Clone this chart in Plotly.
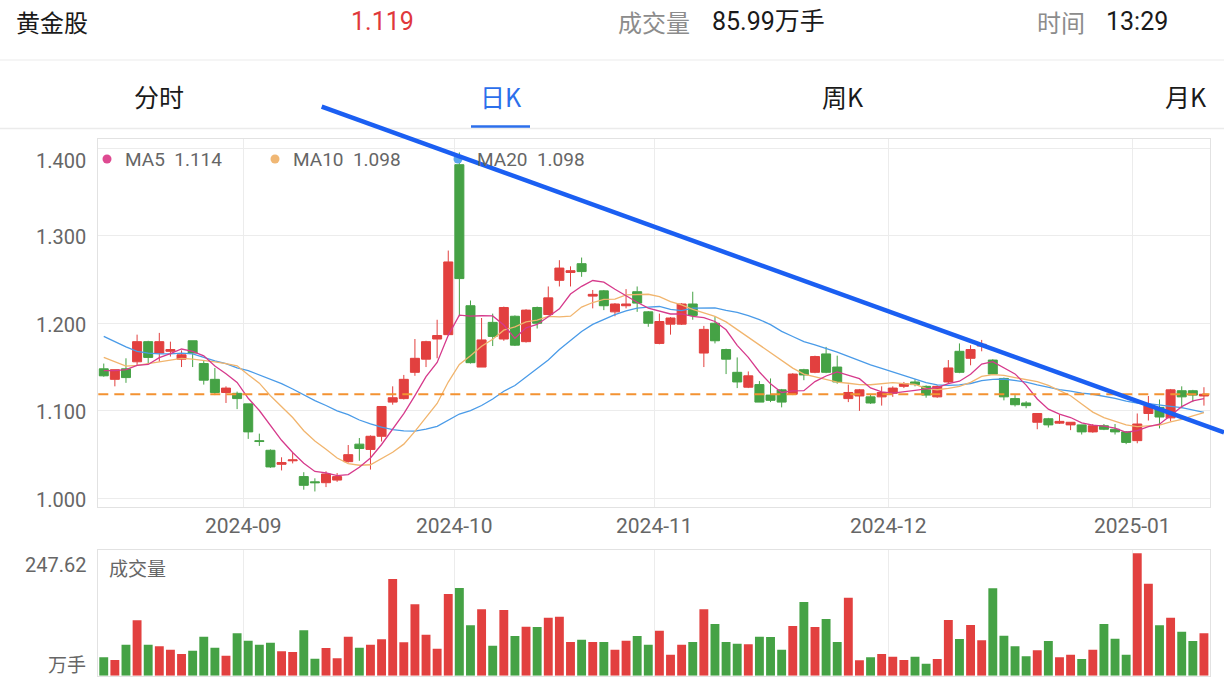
import plotly.graph_objects as go
import pandas as pd

# ---------------- data ----------------
aug_days = [14, 15, 16, 19, 20, 21, 22, 23, 26, 27, 28, 29, 30]
sep_days = [2, 3, 4, 5, 6, 9, 10, 11, 12, 13, 18, 19, 20, 23, 24, 25, 26, 27, 30]
oct_days = [8, 9, 10, 11, 14, 15, 16, 17, 18, 21, 22, 23, 24, 25, 28, 29, 30, 31]
nov_days = [1, 4, 5, 6, 7, 8, 11, 12, 13, 14, 15, 18, 19, 20, 21, 22, 25, 26, 27, 28, 29]
dec_days = [2, 3, 4, 5, 6, 9, 10, 11, 12, 13, 16, 17, 18, 19, 20, 23, 24, 25, 26, 27, 30, 31]
jan_days = [2, 3, 6, 7, 8, 9, 10]
months = [("2024-08", aug_days), ("2024-09", sep_days), ("2024-10", oct_days),
          ("2024-11", nov_days), ("2024-12", dec_days), ("2025-01", jan_days)]
dates = [f"{m}-{d:02d}" for m, days in months for d in days]
month_labels = ["2024-09", "2024-10", "2024-11", "2024-12", "2025-01"]

opens = [1.148, 1.136, 1.148, 1.156, 1.179, 1.166, 1.168, 1.159, 1.180, 1.154,
         1.136, 1.121, 1.120, 1.108, 1.066, 1.055, 1.039, 1.043, 1.025, 1.019,
         1.018, 1.021, 1.042, 1.062, 1.056, 1.071, 1.110, 1.114, 1.144, 1.159,
         1.182, 1.187, 1.381, 1.220, 1.150, 1.201, 1.182, 1.208, 1.179, 1.218,
         1.210, 1.249, 1.258, 1.268, 1.231, 1.237, 1.213, 1.220, 1.236, 1.213,
         1.177, 1.199, 1.199, 1.222, 1.166, 1.200, 1.170, 1.144, 1.127, 1.130,
         1.118, 1.124, 1.119, 1.147, 1.144, 1.165, 1.150, 1.114, 1.117, 1.116,
         1.116, 1.120, 1.128, 1.133, 1.128, 1.116, 1.133, 1.168, 1.160, 1.174,
         1.158, 1.137, 1.114, 1.109, 1.087, 1.091, 1.086, 1.084, 1.084, 1.076,
         1.083, 1.079, 1.076, 1.066, 1.097, 1.104, 1.092, 1.123, 1.123, 1.117]
closes = [1.140, 1.147, 1.138, 1.179, 1.161, 1.179, 1.170, 1.164, 1.166, 1.135,
          1.121, 1.126, 1.114, 1.076, 1.065, 1.036, 1.041, 1.044, 1.015, 1.018,
          1.028, 1.025, 1.050, 1.057, 1.071, 1.105, 1.115, 1.136, 1.160, 1.179,
          1.186, 1.270, 1.251, 1.155, 1.181, 1.185, 1.218, 1.175, 1.215, 1.200,
          1.229, 1.263, 1.260, 1.259, 1.233, 1.220, 1.222, 1.222, 1.223, 1.200,
          1.202, 1.206, 1.222, 1.209, 1.193, 1.180, 1.159, 1.133, 1.140, 1.110,
          1.112, 1.110, 1.142, 1.141, 1.162, 1.144, 1.133, 1.121, 1.124, 1.109,
          1.121, 1.126, 1.131, 1.130, 1.118, 1.128, 1.149, 1.144, 1.170, 1.176,
          1.142, 1.116, 1.107, 1.106, 1.097, 1.084, 1.088, 1.087, 1.076, 1.083,
          1.079, 1.076, 1.064, 1.085, 1.106, 1.093, 1.124, 1.116, 1.118, 1.119]
highs = [1.154, 1.147, 1.160, 1.187, 1.180, 1.189, 1.179, 1.169, 1.180, 1.158,
         1.149, 1.128, 1.122, 1.108, 1.074, 1.056, 1.047, 1.052, 1.030, 1.023,
         1.031, 1.029, 1.061, 1.069, 1.072, 1.105, 1.128, 1.141, 1.182, 1.180,
         1.204, 1.283, 1.395, 1.226, 1.206, 1.211, 1.219, 1.209, 1.216, 1.219,
         1.242, 1.272, 1.265, 1.275, 1.238, 1.238, 1.223, 1.239, 1.242, 1.214,
         1.211, 1.207, 1.223, 1.236, 1.197, 1.208, 1.171, 1.161, 1.145, 1.134,
         1.137, 1.125, 1.143, 1.148, 1.163, 1.173, 1.163, 1.130, 1.125, 1.119,
         1.128, 1.128, 1.133, 1.136, 1.129, 1.129, 1.158, 1.177, 1.175, 1.181,
         1.159, 1.138, 1.118, 1.111, 1.097, 1.092, 1.096, 1.087, 1.084, 1.085,
         1.085, 1.085, 1.077, 1.097, 1.117, 1.113, 1.125, 1.128, 1.124, 1.127]
lows = [1.139, 1.128, 1.132, 1.152, 1.154, 1.156, 1.162, 1.150, 1.150, 1.130,
        1.118, 1.109, 1.102, 1.068, 1.060, 1.035, 1.032, 1.040, 1.010, 1.008,
        1.013, 1.019, 1.041, 1.043, 1.033, 1.065, 1.107, 1.113, 1.140, 1.150,
        1.160, 1.186, 1.208, 1.154, 1.150, 1.174, 1.180, 1.174, 1.178, 1.194,
        1.209, 1.242, 1.242, 1.253, 1.217, 1.215, 1.208, 1.217, 1.213, 1.196,
        1.176, 1.187, 1.198, 1.204, 1.150, 1.177, 1.142, 1.126, 1.126, 1.110,
        1.110, 1.104, 1.118, 1.135, 1.143, 1.143, 1.131, 1.110, 1.100, 1.108,
        1.106, 1.116, 1.126, 1.128, 1.115, 1.115, 1.131, 1.143, 1.152, 1.168,
        1.141, 1.112, 1.105, 1.103, 1.079, 1.081, 1.085, 1.078, 1.073, 1.075,
        1.078, 1.073, 1.062, 1.063, 1.089, 1.080, 1.088, 1.103, 1.110, 1.106]
volumes = [37.2, 31.8, 62.7, 112.0, 62.7, 59.5, 52.6, 43.9, 50.6, 78.9,
           56.6, 40.5, 85.8, 70.8, 62.7, 66.8, 49.4, 47.9, 91.8, 34.4,
           56.0, 35.2, 78.9, 56.6, 62.7, 73.6, 195.6, 67.6, 144.4, 82.9,
           54.6, 165.3, 177.4, 102.0, 134.3, 60.7, 132.9, 80.3, 99.1, 98.5,
           117.3, 119.4, 68.2, 72.8, 68.2, 68.2, 52.6, 70.8, 80.3, 62.7,
           91.0, 42.5, 62.7, 68.2, 134.3, 104.6, 68.2, 64.7, 63.5, 78.9,
           78.5, 52.6, 100.5, 149.1, 98.5, 114.7, 68.2, 157.8, 31.2, 37.2,
           43.9, 38.4, 31.8, 38.4, 24.3, 33.8, 112.7, 74.2, 102.6, 71.6,
           176.8, 80.9, 59.5, 39.2, 51.4, 70.2, 37.2, 42.5, 33.8, 52.6,
           104.6, 74.9, 42.5, 247.62, 186.1, 102.0, 117.3, 89.0, 70.2, 85.99]
# moving-average values at the left edge (window starts before the visible range)
ma5_head = [1.146, 1.146, 1.147, 1.152]
ma10_head = [1.161, 1.156, 1.151, 1.152, 1.154, 1.156, 1.158, 1.160, 1.159]
ma20_head = [1.185, 1.179, 1.173, 1.168, 1.166, 1.165, 1.165, 1.166, 1.165, 1.161,
             1.157, 1.154, 1.149, 1.146, 1.141, 1.136, 1.131, 1.125, 1.118]
price_ticks = [1.0, 1.1, 1.2, 1.3, 1.4]
stock_name = "黄金股"
clock_time = "13:29"
tabs = ["分时", "日K", "周K", "月K"]

# ---------------- derived ----------------
n = len(dates)
idx = list(range(n))
cs = pd.Series(closes)


def ma(win, head):
    vals = cs.rolling(win).mean().tolist()
    return head + vals[len(head):]


ma5 = ma(5, ma5_head)
ma10 = ma(10, ma10_head)
ma20 = ma(20, ma20_head)
month_start = [dates.index(next(d for d in dates if d.startswith(m))) for m in month_labels]
grid_x = [i - 0.4 for i in month_start]

RED = "#E2403F"
GREEN = "#45A245"
vol_colors = [RED if c >= o else GREEN for o, c in zip(opens, closes)]

W, H = 1224, 686


def fx(p):
    return p / W


def fy(p):
    return 1 - p / H


PX0, PX1 = 98.3, 1209.5
PY0, PY1 = 139.3, 506.7
VY0, VY1 = 550.0, 675.7

NUM = "Roboto, Noto Sans CJK SC, sans-serif"
CJK = "Noto Sans CJK SC, sans-serif"
GRID = "#ececec"
BORDER = "#e2e2e2"
LABEL = "#666666"

fig = go.Figure()
fig.add_trace(go.Candlestick(
    x=idx, open=opens, high=highs, low=lows, close=closes,
    increasing=dict(line=dict(color=RED, width=1), fillcolor=RED),
    decreasing=dict(line=dict(color=GREEN, width=1), fillcolor=GREEN),
    whiskerwidth=0, showlegend=False, xaxis="x", yaxis="y",
    text=dates, hoverinfo="x+y+text"))
for vals, col in [(ma20, "#4A9BE8"), (ma10, "#F1B56E"), (ma5, "#D63A8C")]:
    fig.add_trace(go.Scatter(x=idx, y=vals, mode="lines", line=dict(color=col, width=1.3),
                             showlegend=False, xaxis="x", yaxis="y", hoverinfo="skip"))
fig.add_trace(go.Bar(x=idx, y=volumes, marker=dict(color=vol_colors, line=dict(width=0)),
                     width=0.8, showlegend=False, xaxis="x2", yaxis="y2"))

xd = [fx(PX0), fx(PX1)]
xr = [-0.49, n - 0.5]
axis_common = dict(showline=True, mirror=True, linecolor=BORDER, linewidth=1, zeroline=False,
                   ticks="", showticklabels=False, fixedrange=True)
fig.update_layout(
    width=W, height=H, autosize=False, margin=dict(l=0, r=0, t=0, b=0),
    paper_bgcolor="white", plot_bgcolor="white", showlegend=False,
    boxgap=0.19, boxgroupgap=0, bargap=0.2,
    xaxis=dict(domain=xd, range=xr, tickvals=grid_x, showgrid=True, gridcolor=GRID,
               rangeslider=dict(visible=False), anchor="y", **axis_common),
    yaxis=dict(domain=[fy(PY1), fy(PY0)], range=[0.9906, 1.4100], tickvals=price_ticks,
               showgrid=True, gridcolor=GRID, anchor="x", **axis_common),
    xaxis2=dict(domain=xd, range=xr, tickvals=grid_x, showgrid=True, gridcolor=GRID,
                anchor="y2", matches="x", **axis_common),
    yaxis2=dict(domain=[fy(VY1), fy(VY0)], range=[0, 254.3], showgrid=False, anchor="x2",
                **axis_common),
)

shapes = []
# current price dashed line
shapes.append(dict(type="line", xref="x domain", x0=0, x1=1, yref="y", y0=closes[-1], y1=closes[-1],
                   line=dict(color="#F39232", width=2, dash="10px,6px"), layer="above"))
# separators & tab underline
shapes.append(dict(type="line", xref="paper", yref="paper", x0=0, x1=1, y0=fy(60), y1=fy(60),
                   line=dict(color="#ebebeb", width=1)))
shapes.append(dict(type="line", xref="paper", yref="paper", x0=0, x1=1, y0=fy(128.5), y1=fy(128.5),
                   line=dict(color="#ebebeb", width=1.5)))
shapes.append(dict(type="line", xref="paper", yref="paper", x0=fx(471), x1=fx(530),
                   y0=fy(126.5), y1=fy(126.5), line=dict(color="#2C6FEB", width=2.5)))
# legend dots
for cx, col in [(107, "#DE4A91"), (275, "#F0B774"), (458, "#5AA5EC")]:
    shapes.append(dict(type="circle", xref="paper", yref="paper", x0=fx(cx - 4.5), x1=fx(cx + 4.5),
                       y0=fy(159 + 4.5), y1=fy(159 - 4.5), fillcolor=col, line=dict(width=0),
                       layer="above"))
# hand-drawn trend line (overlay)
shapes.append(dict(type="line", xref="paper", yref="paper", x0=fx(321.7), y0=fy(106.7),
                   x1=fx(1224), y1=fy(432.5), line=dict(color="#1B5FF2", width=4.5), layer="above"))
fig.update_layout(shapes=shapes)

ann = []


def txt(x, y, s, size, color, font=NUM, xanchor="left", xref="paper", yref="paper", yshift=0):
    ann.append(dict(x=x, y=y, xref=xref, yref=yref, text=s, showarrow=False, xanchor=xanchor,
                    yanchor="middle", yshift=yshift, font=dict(size=size, color=color, family=font)))


# header
txt(fx(14), fy(22), stock_name, 24, "#1a1a1a", CJK)
txt(fx(382), fy(22), f"{closes[-1]:.3f}", 25, "#E0383B", NUM, "center")
txt(fx(616), fy(22), "成交量", 24, "#8c8c8c", CJK)
txt(fx(710), fy(22), f"{volumes[-1]:.2f}万手", 25, "#1a1a1a", NUM)
txt(fx(1035), fy(22), "时间", 24, "#8c8c8c", CJK)
txt(fx(1104), fy(22), clock_time, 25, "#1a1a1a", NUM)
# tabs
for cx, t, col in zip([159, 501, 843, 1186], tabs, ["#1a1a1a", "#2C6FEB", "#1a1a1a", "#1a1a1a"]):
    txt(fx(cx), fy(96), t, 25, col, CJK, "center")
# price axis labels
for v in price_ticks:
    shift = -1.5 if v < 1.35 else -12.7
    txt(fx(88), v, f"{v:.3f}", 20, LABEL, NUM, "right", yref="y", yshift=shift)
# month labels
for gx, lab in zip(grid_x, month_labels):
    txt(gx, fy(526), lab, 21, LABEL, NUM, "center", xref="x")
# MA legend
txt(fx(123), fy(159), f"MA5  {ma5[-1]:.3f}", 19, LABEL, NUM)
txt(fx(291), fy(159), f"MA10  {ma10[-1]:.3f}", 19, LABEL, NUM)
txt(fx(475), fy(159), f"MA20  {ma20[-1]:.3f}", 19, LABEL, NUM)
# volume labels
txt(fx(88), fy(565), f"{max(volumes):.2f}", 20, LABEL, NUM, "right")
txt(fx(88), fy(663), "万手", 19, LABEL, CJK, "right")
txt(fx(107), fy(567), "成交量", 19, LABEL, CJK)
fig.update_layout(annotations=ann)

fig.write_html("out.html", config={"displayModeBar": False},
               post_script="document.body.style.margin='0px';document.body.style.overflow='hidden';")
